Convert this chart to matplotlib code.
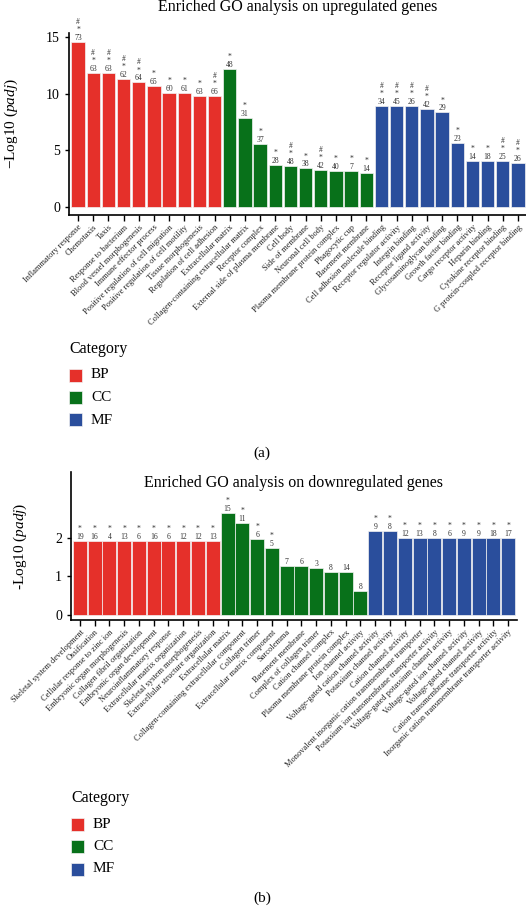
import matplotlib
matplotlib.use('Agg')
import matplotlib.pyplot as plt
from matplotlib.patches import Patch, Rectangle
import numpy as np

plt.rcParams['font.family'] = ['Liberation Serif', 'DejaVu Serif']
plt.rcParams['mathtext.fontset'] = 'custom'
plt.rcParams['mathtext.rm'] = 'Liberation Serif'
plt.rcParams['mathtext.it'] = 'Liberation Serif:italic'

categories = ['BP', 'CC', 'MF']
colors = {'BP': '#E5302A', 'CC': '#08711A', 'MF': '#2A4E9C'}

# (a) upregulated genes
up_terms = ['Inflammatory response', 'Chemotaxis', 'Taxis', 'Response to bacterium',
            'Blood vessel morphogenesis', 'Immune effector process',
            'Positive regulation of cell migration', 'Positive regulation of cell motility',
            'Tissue morphogenesis', 'Regulation of cell adhesion',
            'Extracellular matrix', 'Collagen-containing extracellular matrix',
            'Receptor complex', 'External side of plasma membrane', 'Cell body',
            'Side of membrane', 'Neuronal cell body', 'Plasma membrane protein complex',
            'Phagocytic cup', 'Basement membrane',
            'Cell adhesion molecule binding', 'Receptor regulator activity',
            'Integrin binding', 'Receptor ligand activity', 'Glycosaminoglycan binding',
            'Growth factor binding', 'Cargo receptor activity', 'Heparin binding',
            'Cytokine receptor binding', 'G protein-coupled receptor binding']
up_category = ['BP'] * 10 + ['CC'] * 10 + ['MF'] * 10
up_values = [14.6, 11.85, 11.85, 11.3, 11.0, 10.7, 10.05, 10.05, 9.8, 9.8,
             12.2, 7.9, 5.6, 3.7, 3.6, 3.4, 3.27, 3.15, 3.15, 2.98,
             8.94, 8.94, 8.94, 8.67, 8.35, 5.64, 4.04, 4.04, 4.04, 3.87]
up_counts = [73, 63, 63, 62, 64, 65, 60, 61, 63, 66,
             48, 31, 37, 28, 48, 38, 42, 40, 7, 14,
             34, 45, 26, 42, 29, 23, 14, 18, 25, 26]
up_star = [1] * 30
up_hash = [1, 1, 1, 1, 1, 0, 0, 0, 0, 1,
           0, 0, 0, 0, 1, 0, 1, 0, 0, 0,
           1, 1, 1, 1, 0, 0, 0, 0, 1, 1]

# (b) downregulated genes
down_terms = ['Skeletal system development', 'Ossification', 'Cellular response to zinc ion',
              'Embryonic organ morphogenesis', 'Collagen fibril organization',
              'Embryonic organ development', 'Neuroinflammatory response',
              'Extracellular matrix organization', 'Skeletal system morphogenesis',
              'Extracellular structure organization',
              'Extracellular matrix', 'Collagen-containing extracellular component',
              'Collagen trimer', 'Extracellular matrix component', 'Sarcolemma',
              'Basement membrane', 'Complex of collagen trimer', 'Cation channel complex',
              'Plasma membrane protein complex', 'Ion channel activity',
              'Voltage-gated cation channel activity', 'Potassium channel activity',
              'Cation channel activity',
              'Monovalent inorganic cation transmembrane transporter',
              'Potassium ion transmembrane transporter activity',
              'Voltage-gated potassium channel activity', 'Voltage-gated ion channel activity',
              'Voltage-gated channel activity', 'Cation transmembrane transporter activity',
              'Inorganic cation transmembrane transporter activity']
down_category = ['BP'] * 10 + ['CC'] * 10 + ['MF'] * 10
down_values = [1.91] * 10 + [2.64, 2.37, 1.96, 1.73, 1.26, 1.26, 1.21, 1.11, 1.11, 0.63,
                             2.17, 2.17, 2.0, 2.0, 2.0, 2.0, 2.0, 2.0, 2.0, 2.0]
down_counts = [19, 16, 4, 13, 6, 16, 6, 12, 12, 13,
               15, 11, 6, 5, 7, 6, 3, 8, 14, 8,
               9, 8, 12, 13, 8, 6, 9, 9, 18, 17]
down_star = [1] * 10 + [1, 1, 1, 1, 0, 0, 0, 0, 0, 0] + [1] * 10
down_hash = [0] * 30


def draw_panel(ax, terms, cats, values, counts, star, hashes, width, ylim, yticks, ylab):
    x = np.arange(len(terms))
    bars = ax.bar(x, values, width, color=[colors[c] for c in cats],
                  edgecolor='#f2f2f2', linewidth=0.5)
    for rect, n, s, h in zip(bars, counts, star, hashes):
        # stacked marks: '#' on top, '*' in the middle, gene count at the bottom
        lines = (['#'] if h else []) + (['*'] if s else []) + [str(n)]
        ax.annotate('\n'.join(lines), (rect.get_x() + rect.get_width() / 2, rect.get_height()),
                    xytext=(0, 0), textcoords='offset points', ha='center', va='bottom',
                    multialignment='center', linespacing=1.0, fontsize=5.5, color='#333333')
    ax.set_xlim(-0.6, len(terms) - 0.4)
    ax.set_ylim(*ylim)
    ax.set_yticks(yticks)
    ax.set_xticks(x)
    ax.set_xticklabels(terms, rotation=45, ha='right', rotation_mode='anchor',
                       fontsize=6, color='#222222')
    ax.tick_params(axis='x', length=4, width=1, pad=2)
    ax.tick_params(axis='y', length=3, width=1, labelsize=10)
    for side in ['top', 'right']:
        ax.spines[side].set_visible(False)
    for side in ['left', 'bottom']:
        ax.spines[side].set_linewidth(1.2)
    ax.set_ylabel(ylab, fontsize=11)


def draw_key(fig, x, y_title):
    # legend drawn by hand so the spacing follows the reference
    fig.text(x / W, 1 - y_title / H, 'Category', ha='left', va='center', fontsize=11.5)
    for i, c in enumerate(categories):
        yc = y_title + 26 + 22.5 * i
        fig.add_artist(Rectangle((x / W, 1 - (yc + 6.5) / H), 13 / W, 13 / H,
                                 transform=fig.transFigure, facecolor=colors[c],
                                 edgecolor='#f2f2f2', linewidth=0.5))
        fig.text((x + 22) / W, 1 - yc / H, c, ha='left', va='center', fontsize=11)


fig = plt.figure(figsize=(5.26, 9.07), dpi=100)
W, H = 526, 907

ax1 = fig.add_axes([69 / W, 1 - 215 / H, 458 / W, 182 / H])
draw_panel(ax1, up_terms, up_category, up_values, up_counts, up_star, up_hash,
           0.88, (-0.706, 15.36), [0, 5, 10, 15], r'$-$Log10 ($padj$)')
ax1.yaxis.set_label_coords(-0.107, 0.5)
fig.text(298 / W, 1 - 7 / H, 'Enriched GO analysis on upregulated genes',
         ha='center', va='center', fontsize=11.5)

ax2 = fig.add_axes([71 / W, 1 - 620 / H, 446 / W, 148 / H])
draw_panel(ax2, down_terms, down_category, down_values, down_counts, down_star, down_hash,
           0.95, (-0.129, 3.695), [0, 1, 2], r'-Log10 ($padj$)')
ax2.yaxis.set_label_coords(-0.094, 0.5)
ax2.text(0.5, 0.926, 'Enriched GO analysis on downregulated genes',
         transform=ax2.transAxes, ha='center', va='center', fontsize=11.5)

draw_key(fig, 69, 349)
draw_key(fig, 71, 798)

fig.text(262 / W, 1 - 453 / H, '(a)', ha='center', va='center', fontsize=11)
fig.text(262 / W, 1 - 898 / H, '(b)', ha='center', va='center', fontsize=11)

fig.savefig('out.png', dpi=100)
